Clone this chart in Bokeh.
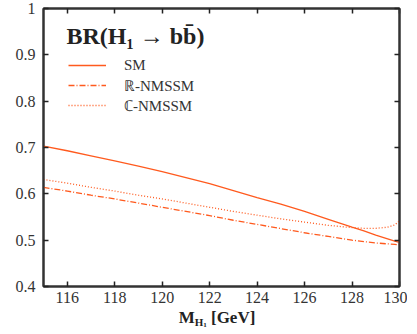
from bokeh.plotting import figure
from bokeh.models import Range1d, FixedTicker, LinearAxis, Legend, LegendItem, Label, Div
from bokeh.layouts import column
from bokeh.embed import file_html
from bokeh.resources import INLINE

mass = [115, 116, 117, 118, 119, 120, 121, 122, 123, 124, 125, 126, 127, 128, 128.5, 129, 129.5, 129.8, 130]
br_sm = [0.703, 0.693, 0.682, 0.671, 0.660, 0.648, 0.635, 0.622, 0.607, 0.592, 0.578, 0.562, 0.545, 0.528, 0.520, 0.511, 0.503, 0.498, 0.495]
br_rn = [0.614, 0.606, 0.597, 0.589, 0.580, 0.571, 0.562, 0.553, 0.543, 0.534, 0.525, 0.516, 0.508, 0.500, 0.497, 0.494, 0.492, 0.491, 0.490]
br_cn = [0.631, 0.623, 0.614, 0.606, 0.597, 0.589, 0.580, 0.571, 0.562, 0.554, 0.546, 0.539, 0.532, 0.527, 0.5255, 0.5255, 0.528, 0.533, 0.542]
x_ticks = [116, 118, 120, 122, 124, 126, 128, 130]
y_ticks = [0.4, 0.5, 0.6, 0.7, 0.8, 0.9, 1.0]
y_tick_labels = {0.4: "0.4", 0.5: "0.5", 0.6: "0.6", 0.7: "0.7", 0.8: "0.8", 0.9: "0.9", 1.0: "1"}
series_names = ["SM", "\u211d-NMSSM", "\u2102-NMSSM"]
legend_title = "BR(H\u2081 \u2192 bb\u0304)"

FONT = "'Liberation Serif', serif"
COL = "#ff5a1e"
TXT = "#333333"

FL, FT, FW, FH, FR, FB = 43, 8, 356, 278, 8, 24

p = figure(frame_width=FW, frame_height=FH, x_range=Range1d(115, 130), y_range=Range1d(0.4, 1.0),
           output_backend="svg", toolbar_location=None,
           min_border_left=FL, min_border_right=FR, min_border_top=FT, min_border_bottom=FB)
p.xgrid.visible = False
p.ygrid.visible = False
p.outline_line_color = "#333333"
p.outline_line_width = 2
p.background_fill_color = "white"
p.border_fill_color = "white"

def style(ax, labels=True):
    ax.major_tick_in = 5
    ax.major_tick_out = 0
    ax.minor_tick_line_color = None
    ax.axis_line_color = "#333333"
    ax.axis_line_width = 2
    ax.major_tick_line_color = "#222222"
    ax.major_tick_line_width = 1.5
    ax.major_label_text_font = FONT
    ax.major_label_text_color = TXT
    if labels:
        ax.major_label_text_font_size = "16px"
    else:
        ax.major_label_text_alpha = 0
        ax.major_label_text_font_size = "1px"
        ax.major_label_standoff = 0

p.xaxis.ticker = FixedTicker(ticks=x_ticks)
p.yaxis.ticker = FixedTicker(ticks=y_ticks)
p.yaxis.major_label_overrides = y_tick_labels
style(p.xaxis[0])
style(p.yaxis[0])
p.xaxis.major_label_standoff = 5
p.yaxis.major_label_standoff = 8

top = LinearAxis(ticker=FixedTicker(ticks=x_ticks))
style(top, labels=False)
p.add_layout(top, "above")
right = LinearAxis(ticker=FixedTicker(ticks=y_ticks))
style(right, labels=False)
p.add_layout(right, "right")

r_sm = p.line(mass, br_sm, line_color=COL, line_width=1.3)
r_rn = p.line(mass, br_rn, line_color=COL, line_width=1.3, line_dash="6 2 1 2")
r_cn = p.line(mass, br_cn, line_color=COL, line_width=1.3, line_dash="1 2")

legend = Legend(items=[LegendItem(label=series_names[0], renderers=[r_sm]),
                       LegendItem(label=series_names[1], renderers=[r_rn]),
                       LegendItem(label=series_names[2], renderers=[r_cn])],
                location=(25, 171),
                label_text_font=FONT, label_text_font_size="15px", label_text_color=TXT,
                glyph_width=38, label_standoff=18, spacing=0, label_height=20, glyph_height=20,
                background_fill_alpha=0, border_line_color=None, margin=0, padding=0)
p.add_layout(legend)

def ydat(px):
    return 0.4 + (FT + FH - px) * 0.6 / FH
def xdat(px):
    return 115 + (px - FL) * 15 / FW

p.add_layout(Label(x=xdat(66), y=ydat(35), text=legend_title, text_font=FONT, text_font_style="bold",
                   text_font_size="24px", text_color="#222222", text_baseline="alphabetic"))

xlabel_html = ('<div style="width:%dpx;margin-left:%dpx;text-align:center;font-family:\'Liberation Serif\',serif;'
               'font-weight:bold;font-size:17px;line-height:15px;color:#222;white-space:nowrap;">'
               'M<sub style="font-size:11px;vertical-align:-3px;">H<sub style="font-size:7px;vertical-align:-1px;">1</sub></sub>'
               '&nbsp;[GeV]</div>') % (FW, FL - 4)
div = Div(text=xlabel_html, width=FL + FW + FR, height=22, margin=0)

layout = column(p, div, spacing=0)
open("out.html", "w").write(file_html(layout, INLINE))
